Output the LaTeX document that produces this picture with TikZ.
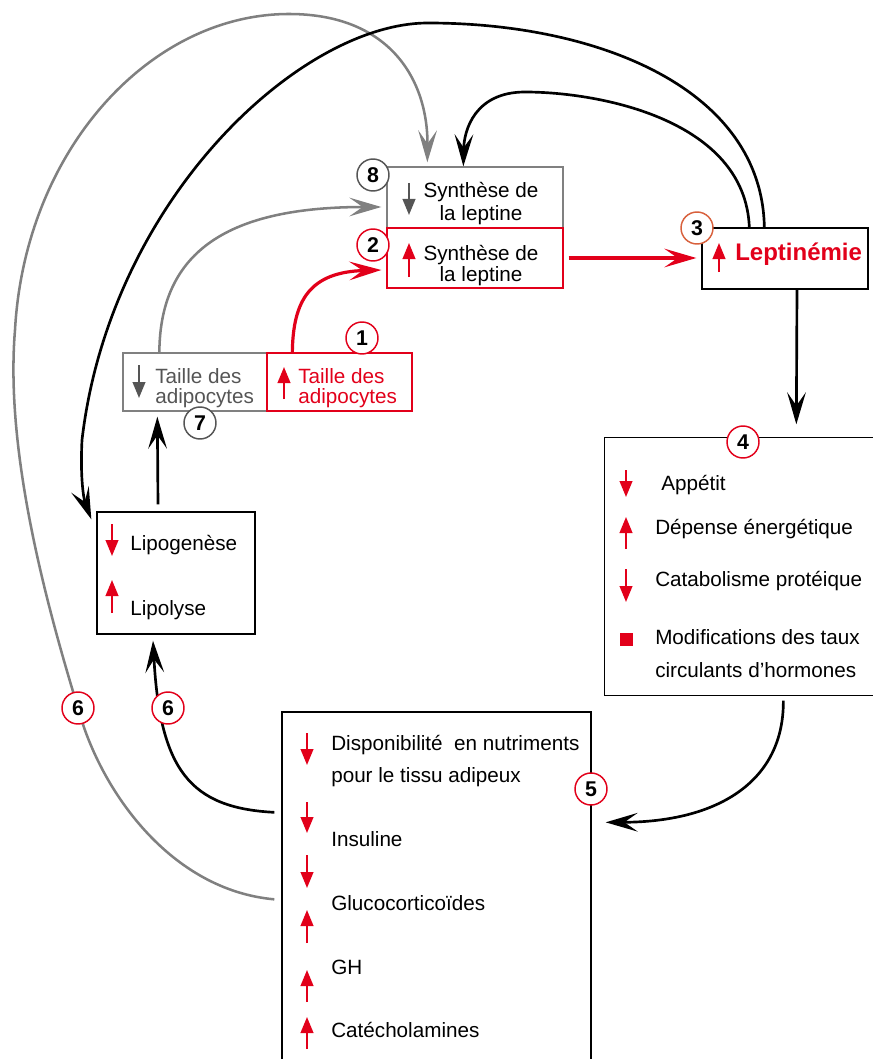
\documentclass[tikz,border=0pt]{standalone}
\usepackage{fontspec}
\setmainfont{Liberation Sans}
\usetikzlibrary{arrows.meta,calc}
\definecolor{myred}{HTML}{E2001A}
\definecolor{mygrey}{HTML}{808080}
\definecolor{mydgrey}{HTML}{555555}
\definecolor{myorange}{HTML}{D8603C}
\newcommand\sarrow[4]{\draw[#1, line width=1.5pt, -{Triangle[length=12pt,width=9.5pt]}] (#2,#3) -- (#2,#4);}
\begin{document}
\begin{tikzpicture}[x=0.75pt,y=-0.75pt,
  box/.style={draw, line width=1pt, inner sep=0pt, rectangle},
  txt/.style={font=\fontsize{15.5}{17.5}\selectfont, inner sep=0pt, anchor=base west},
  ctxt/.style={font=\fontsize{15.5}{17.5}\selectfont, inner sep=0pt, anchor=base},
  num/.style={circle, draw, fill=white, line width=1.1pt, minimum size=24pt, inner sep=0pt, font=\fontsize{16}{16}\selectfont\bfseries},
  conn/.style={line width=2pt, -{Stealth[length=24pt,width=14pt,inset=10pt]}},
  ]
\useasboundingbox (0,0) rectangle (872,1059);

% boxes
\node[box, draw=mygrey, minimum width=132pt, minimum height=45.75pt] (b8) at (475,197.5) {};
\node[box, draw=myred, minimum width=132pt, minimum height=45pt] (b2) at (475,258) {};
\node[box, draw=black, minimum width=124.5pt, minimum height=45.75pt] (b3) at (785,258.5) {};
\node[box, draw=mygrey, minimum width=108pt, minimum height=43.5pt] (b7) at (195,382) {};
\node[box, draw=myred, minimum width=108.75pt, minimum height=43.5pt] (b1) at (339.5,382) {};
\node[box, draw=none, minimum width=200.25pt, minimum height=192.75pt] (b4) at (738.5,566.5) {};
\draw[line width=1pt] ($(b4.north east)+(10,0)$) -- (b4.north west) -- (b4.south west) -- ($(b4.south east)+(10,0)$);
\node[box, draw=black, minimum width=231.75pt, minimum height=262.5pt] (b5) at (436.5,887) {};
\node[box, draw=black, minimum width=118.5pt, minimum height=91.5pt] (bL) at (176,573) {};

% texts
\node[ctxt] (t8a) at (481,198) {Synthèse de};
\node[ctxt] (t8b) at (481,221) {la leptine};
\node[ctxt] (t2a) at (481,260) {Synthèse de};
\node[ctxt] (t2b) at (481,281) {la leptine};
\node[txt, text=myred, font=\fontsize{18}{20}\selectfont\bfseries] (t3) at (735,261) {Leptinémie};
\node[txt, text=mydgrey] (t7a) at (155,383) {Taille des};
\node[txt, text=mydgrey] (t7b) at (155,403) {adipocytes};
\node[txt, text=myred] (t1a) at (298,383) {Taille des};
\node[txt, text=myred] (t1b) at (298,403) {adipocytes};
\node[txt] (t4a) at (661,490) {Appétit};
\node[txt] (t4b) at (655,534) {Dépense énergétique};
\node[txt] (t4c) at (655,586) {Catabolisme protéique};
\node[txt] (t4d) at (655,644) {Modifications des taux};
\node[txt] (t4e) at (655,677) {circulants d’hormones};
\node[txt] (t5a) at (331,750) {Disponibilité\ \ en nutriments};
\node[txt] (t5b) at (331,782) {pour le tissu adipeux};
\node[txt] (t5c) at (331,846) {Insuline};
\node[txt] (t5d) at (331,910) {Glucocorticoïdes};
\node[txt] (t5e) at (331,974) {GH};
\node[txt] (t5f) at (331,1037) {Catécholamines};
\node[txt] (tLa) at (130,550) {Lipogenèse};
\node[txt] (tLb) at (130,615) {Lipolyse};

% small symbol arrows
\sarrow{mydgrey}{409}{183}{215}
\sarrow{myred}{409}{277}{243}
\sarrow{myred}{719}{272}{243}
\sarrow{mydgrey}{139}{365}{398}
\sarrow{myred}{284}{399}{367}
\sarrow{myred}{626}{470}{497}
\sarrow{myred}{626}{549}{517}
\sarrow{myred}{626}{569}{602}
\fill[myred] (620,633) rectangle (633,646);
\sarrow{myred}{307}{733}{765}
\sarrow{myred}{307}{802}{833}
\sarrow{myred}{307}{855}{888}
\sarrow{myred}{307}{943}{910}
\sarrow{myred}{307}{1002}{970}
\sarrow{myred}{307}{1049}{1017}
\sarrow{myred}{112}{524}{556}
\sarrow{myred}{112}{613}{580}

% connector end points
\coordinate (a1s) at ($(b1.north west)+(26,0)$);
\coordinate (a1e) at ($(b2.west)+(-5,12)$);
\coordinate (a2s) at ($(b7.north west)+(37,0)$);
\coordinate (a2e) at ($(b8.west)+(-5,9.5)$);
\coordinate (a3s) at ($(b2.east)+(5,0)$);
\coordinate (a3e) at ($(b3.west)+(-5,-0.5)$);
\coordinate (a4s) at ($(bL.north)+(-18,-7)$);
\coordinate (a4e) at ($(b7.south west)+(35,5)$);
\coordinate (a5s) at ($(b3.south)+(12,0)$);
\coordinate (a5e) at ($(b4.north west)+(192,-13)$);
\coordinate (a6s) at ($(b4.south west)+(179,5)$);
\coordinate (a6e) at ($(b5.north east)+(14,111)$);
\coordinate (a7s) at ($(b5.north west)+(-7,101)$);
\coordinate (a7e) at ($(bL.south)+(-23,6)$);
\coordinate (a8s) at ($(b5.north west)+(-7,188)$);
\coordinate (a8e) at ($(b8.north west)+(41,-4)$);
\coordinate (a9s) at ($(b3.north west)+(63,0)$);
\coordinate (a9e) at ($(bL.north west)+(-5,8)$);
\coordinate (a10s) at ($(b3.north west)+(48,0)$);
\coordinate (a10e) at ($(b8.north west)+(77,0)$);

% connectors
\draw[conn, myred, line width=2.4pt] (a1s) .. controls (293,300) and (310,272) .. (a1e);
\draw[conn, mygrey, line width=1.9pt] (a2s) .. controls (160,250) and (230,207) .. (a2e);
\draw[conn, myred, line width=2.4pt] (a3s) -- (a3e);
\draw[conn] (a4s) -- (a4e);
\draw[conn] (a5s) -- (a5e);
\draw[conn] (a6s) .. controls (784,780) and (720,822) .. (a6e);
\draw[conn] (a7s) .. controls (190,808) and (160,770) .. (a7e);
\draw[conn, mygrey, line width=1.9pt] (a8s) .. controls (170,890) and (100,790) .. (78,708)
  .. controls (45,600) and (5,450) .. (15,330)
  .. controls (25,150) and (150,14) .. (289,14)
  .. controls (390,14) and (428,80) .. (a8e);
\draw[conn] (a9s) .. controls (762,90) and (600,23) .. (428,23)
  .. controls (300,23) and (110,200) .. (82,440)
  .. controls (80,480) and (84,500) .. (a9e);
\draw[conn] (a10s) .. controls (745,120) and (600,92) .. (525,92)
  .. controls (475,92) and (464,130) .. (a10e);

% numbered circles
\node[num, draw=mydgrey] (c8) at (373,175) {8};
\node[num, draw=myred] (c2) at (373,245) {2};
\node[num, draw=myorange] (c3) at (697,228) {3};
\node[num, draw=myred] (c1) at (362,338) {1};
\node[num, draw=mydgrey] (c7) at (200,423) {7};
\node[num, draw=myred] (c4) at (743,442) {4};
\node[num, draw=myred] (c5) at (591,789) {5};
\node[num, draw=myred] (c6a) at (78,708) {6};
\node[num, draw=myred] (c6b) at (168,708) {6};
\end{tikzpicture}
\end{document}
